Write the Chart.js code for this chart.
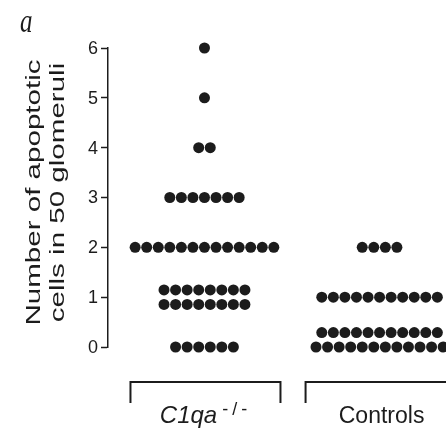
<!DOCTYPE html>
<html>
<head>
<meta charset="utf-8">
<script src="https://cdn.jsdelivr.net/npm/chart.js@4"></script>
<style>
  html, body { margin: 0; padding: 0; background: #fff; }
  #wrap { width: 446px; height: 429px; position: relative; }
</style>
</head>
<body>
<div id="wrap"><canvas id="dotChart"></canvas></div>
<script>
// Groups along x, counts along y
var groupNames = ['C1qa', 'Controls'];
var countValues = [0, 1, 2, 3, 4, 5, 6];
// number of animals at each count, split into the rows drawn (top row first)
var c1qaRows = [[6], [8, 8], [13], [7], [2], [1], [1]];
var controlRows = [[11, 12, 12], [11], [4], [], [], [], []];
var yTicks = [0, 1, 2, 3, 4, 5, 6];
var titleLines = ['Number of apoptotic', 'cells in 50 glomeruli'];

var INK = '#1c1c1c';
var SANS = '"Liberation Sans", Arial, sans-serif';
var DOT_STEP = 0.066;   // x spacing between neighbouring dots (x units)
var ROW_STEP = 0.29;    // y spacing between stacked rows (count units)

// Turn row counts into dot-plot points centred on each group
function buildPoints(rowsByValue, groupIndex) {
    var pts = [];
    rowsByValue.forEach(function(rows, vi) {
        var k = rows.length;
        rows.forEach(function(n, j) {
            var dy = ((k - 1) / 2 - j) * ROW_STEP;
            for (var i = 0; i < n; i++) {
                pts.push({ x: groupIndex + (i - (n - 1) / 2) * DOT_STEP, y: countValues[vi] + dy });
            }
        });
    });
    return pts;
}

// Panel letter, tick numbers, rotated y title, group brackets and labels
var annotate = {
    id: 'annotate',
    afterDraw: function(chart) {
        var ctx = chart.ctx;
        var xs = chart.scales.x, ys = chart.scales.y;
        ctx.save();
        ctx.setTransform(1, 0, 0, 1, 0, 0);
        ctx.fillStyle = INK;
        ctx.strokeStyle = INK;

        ctx.save();
        ctx.translate(20, 32);
        ctx.scale(1, 1.35);
        ctx.font = 'italic 25px "Liberation Serif", serif';
        ctx.fillText('a', 0, 0);
        ctx.restore();

        // y tick numbers
        ctx.font = '18px ' + SANS;
        ctx.textAlign = 'right';
        ctx.textBaseline = 'middle';
        yTicks.forEach(function(v) {
            ctx.fillText(String(v), ys.left + ys.width - 10, ys.getPixelForValue(v) + 1);
        });
        ctx.textAlign = 'left';
        ctx.textBaseline = 'alphabetic';

        var mid = (ys.top + ys.bottom) / 2 - 5;
        ctx.font = '20px ' + SANS;
        var stretch = 266 / ctx.measureText(titleLines[0]).width;
        titleLines.forEach(function(t, i) {
            ctx.save();
            ctx.translate(40 + i * 24, mid);
            ctx.rotate(-Math.PI / 2);
            ctx.scale(stretch, 1);
            ctx.textAlign = 'center';
            ctx.fillText(t, 0, 0);
            ctx.restore();
        });

        var top = ys.bottom + 35;
        ctx.lineWidth = 2;
        groupNames.forEach(function(g, i) {
            var cx = xs.getPixelForValue(i);
            ctx.beginPath();
            ctx.moveTo(cx - 74, top + 21);
            ctx.lineTo(cx - 74, top);
            ctx.lineTo(cx + 76, top);
            ctx.lineTo(cx + 76, top + 21);
            ctx.stroke();
        });

        var base = ys.bottom + 76;
        // C1qa -/-
        var c0 = xs.getPixelForValue(0);
        ctx.font = 'italic 24px ' + SANS;
        var w1 = ctx.measureText(groupNames[0]).width;
        ctx.font = '18px ' + SANS;
        ctx.letterSpacing = '4px';
        var w2 = ctx.measureText('-/-').width;
        var gap = 5;
        var start = c0 + 1 - (w1 + gap + w2) / 2;
        ctx.font = 'italic 24px ' + SANS;
        ctx.letterSpacing = '0px';
        ctx.fillText(groupNames[0], start, base);
        ctx.font = '18px ' + SANS;
        ctx.letterSpacing = '4px';
        ctx.fillText('-/-', start + w1 + gap, base - 8);
        ctx.letterSpacing = '0px';

        // Controls
        ctx.font = '23px ' + SANS;
        ctx.textAlign = 'center';
        ctx.fillText(groupNames[1], xs.getPixelForValue(1) + 2, base);
        ctx.restore();
    }
};

new Chart(document.getElementById('dotChart'), {
    type: 'scatter',
    data: {
        datasets: [
            { label: groupNames[0], data: buildPoints(c1qaRows, 0) },
            { label: groupNames[1], data: buildPoints(controlRows, 1) }
        ].map(function(d) {
            d.pointRadius = 5.5;
            d.pointHoverRadius = 5.5;
            d.backgroundColor = INK;
            d.borderWidth = 0;
            d.clip = false;
            return d;
        })
    },
    options: {
        responsive: true,
        maintainAspectRatio: false,
        animation: false,
        layout: { padding: { top: 48, bottom: 82, left: 0, right: 0 } },
        plugins: {
            legend: { display: false },
            tooltip: { enabled: false }
        },
        scales: {
            x: { type: 'linear', min: -0.551, max: 1.348, display: false },
            y: {
                min: 0,
                max: 6,
                afterFit: function(scale) { scale.width = 108; },
                afterBuildTicks: function(scale) {
                    scale.ticks = yTicks.map(function(v) { return { value: v }; });
                },
                ticks: { display: false },
                grid: {
                    drawOnChartArea: false,
                    drawTicks: true,
                    tickLength: 7,
                    tickColor: INK,
                    tickWidth: 1.5
                },
                border: { display: true, color: INK, width: 1.5 }
            }
        }
    },
    plugins: [annotate]
});
</script>
</body>
</html>
